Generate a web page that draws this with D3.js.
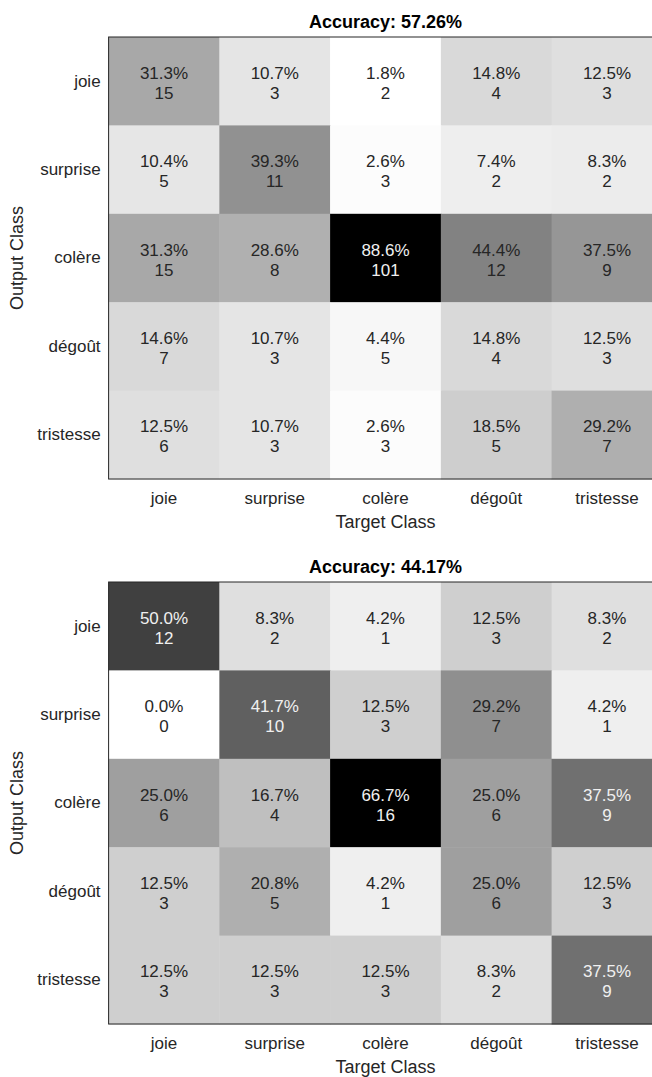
<!DOCTYPE html>
<html>
<head>
<meta charset="utf-8">
<script src="https://cdn.jsdelivr.net/npm/d3@7"></script>
<style>
  body { margin: 0; background: #fff; }
  text { font-family: Arial, "Liberation Sans", Helvetica, sans-serif; }
</style>
</head>
<body>
<svg id="chart" width="652" height="1077"></svg>
<script>
// class names (rows = output, columns = target)
const classes = ['joie', 'surprise', 'colère', 'dégoût', 'tristesse']

// counts, row by row
const countsA = [
  [15, 3, 2, 4, 3],
  [5, 11, 3, 2, 2],
  [15, 8, 101, 12, 9],
  [7, 3, 5, 4, 3],
  [6, 3, 3, 5, 7]
]
const countsB = [
  [12, 2, 1, 3, 2],
  [0, 10, 3, 7, 1],
  [6, 4, 16, 6, 9],
  [3, 5, 1, 6, 3],
  [3, 3, 3, 2, 9]
]

const svg = d3.select('#chart')
const W = 553.75

function drawMatrix(counts, top) {
  const left = 108.6, h = 442
  let g = svg.append('g').attr('transform', `translate(${left}, ${top})`)

  let x = d3.scaleBand().domain(classes).range([0, W])
  let y = d3.scaleBand().domain(classes).range([0, h])

  // column-normalised percentages
  let colSum = classes.map((c, j) => d3.sum(counts, r => r[j]))
  let cells = []
  counts.forEach((row, i) => row.forEach((v, j) => {
    cells.push({ r: classes[i], c: classes[j], n: v, p: 100 * v / colSum[j] })
  }))
  let pmin = d3.min(cells, d => d.p), pmax = d3.max(cells, d => d.p)
  let t = d3.scaleLinear().domain([pmin, pmax]).range([0, 1])
  let shade = d => { let v = Math.round(255 * (1 - t(d.p))); return `rgb(${v},${v},${v})` }

  let acc = 100 * d3.sum(counts, (r, i) => r[i]) / d3.sum(counts, r => d3.sum(r))

  g.selectAll('rect.cell')
    .data(cells)
    .enter()
      .append('rect')
      .attr('class', 'cell')
      .attr('x', d => x(d.c))
      .attr('y', d => y(d.r))
      .attr('width', x.bandwidth() + 0.5)
      .attr('height', y.bandwidth() + 0.5)
      .style('fill', shade)

  let labels = g.selectAll('g.lab')
    .data(cells)
    .enter()
      .append('g')
      .attr('transform', d => `translate(${x(d.c) + x.bandwidth() / 2}, ${y(d.r) + y.bandwidth() / 2})`)
      .style('fill', d => t(d.p) > 0.5 ? '#f0f0f0' : '#262626')
      .attr('text-anchor', 'middle')
      .style('font-size', '17px')
  labels.append('text').attr('y', -2.5).text(d => d.p.toFixed(1) + '%')
  labels.append('text').attr('y', 17.5).text(d => d.n)

  // box
  g.append('rect')
    .attr('width', W).attr('height', h)
    .style('fill', 'none').style('stroke', '#262626').style('stroke-width', 1)

  // axes
  let xa = g.append('g')
     .attr('transform', `translate(0, ${h})`)
     .call(d3.axisBottom(x).tickSize(0).tickPadding(13))
  let ya = g.append('g')
     .call(d3.axisLeft(y).tickSize(0).tickPadding(8))
  ;[xa, ya].forEach(a => {
    a.select('.domain').remove()
    a.selectAll('text').style('font-size', '17px').style('fill', '#262626')
      .style('font-family', 'Arial, "Liberation Sans", Helvetica, sans-serif')
  })

  g.append('text')
     .attr('x', W / 2).attr('y', h + 49)
     .attr('text-anchor', 'middle')
     .style('font-size', '18px').style('fill', '#262626')
     .text('Target Class')
  g.append('text')
     .attr('transform', `translate(${23 - left}, ${h / 2}) rotate(-90)`)
     .attr('text-anchor', 'middle')
     .style('font-size', '18px').style('fill', '#262626')
     .text('Output Class')
  g.append('text')
     .attr('x', W / 2).attr('y', -9)
     .attr('text-anchor', 'middle')
     .style('font-size', '18px').style('font-weight', 'bold').style('fill', '#000')
     .text(`Accuracy: ${acc.toFixed(2)}%`)
}

drawMatrix(countsA, 37)
drawMatrix(countsB, 582)
</script>
</body>
</html>
